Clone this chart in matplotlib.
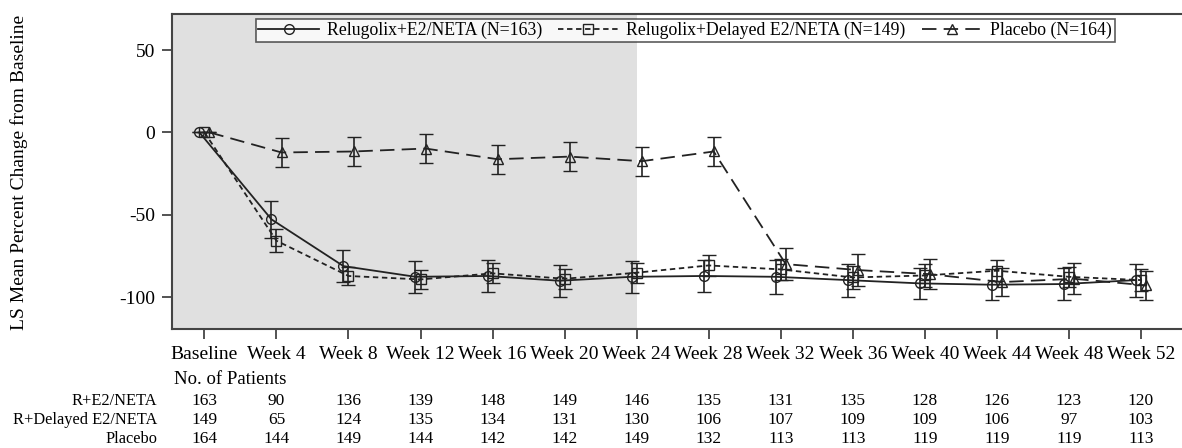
import matplotlib
matplotlib.use("Agg")
import matplotlib.pyplot as plt
import matplotlib.transforms as mtransforms
from matplotlib.lines import Line2D
import numpy as np

plt.rcParams['font.family'] = ['Liberation Serif', 'DejaVu Serif']

# данные
visits = ['Baseline', 'Week 4', 'Week 8', 'Week 12', 'Week 16', 'Week 20', 'Week 24',
          'Week 28', 'Week 32', 'Week 36', 'Week 40', 'Week 44', 'Week 48', 'Week 52']

rel_mean = [0, -52.8, -81.2, -87.7, -87.2, -90.1, -87.7, -87.2, -87.7, -89.7, -91.7, -92.5, -92.1, -89.7]
rel_err = [0, 11.2, 9.8, 9.7, 9.8, 9.7, 9.7, 10.0, 10.2, 10.0, 9.5, 9.5, 9.5, 10.0]

del_mean = [0, -65.8, -87.2, -89.3, -85.6, -88.9, -85.2, -80.8, -83.2, -88.1, -86.9, -84.0, -87.7, -89.7]
del_err = [0, 7.1, 5.5, 6.0, 6.0, 6.0, 6.0, 6.5, 6.5, 7.0, 7.0, 6.5, 6.0, 6.5]

pla_mean = [0, -12.2, -11.6, -9.8, -16.3, -14.7, -17.5, -11.6, -80.0, -83.6, -86.1, -90.9, -88.9, -92.9]
pla_err = [0, 8.7, 8.6, 8.6, 8.7, 8.6, 8.7, 8.7, 9.6, 9.6, 9.3, 8.7, 9.5, 8.7]

n_rel = [163, 90, 136, 139, 148, 149, 146, 135, 131, 135, 128, 126, 123, 120]
n_del = [149, 65, 124, 135, 134, 131, 130, 106, 107, 109, 109, 106, 97, 103]
n_pla = [164, 144, 149, 144, 142, 142, 149, 132, 113, 113, 119, 119, 119, 113]

labels = ['Relugolix+E2/NETA (N=163)', 'Relugolix+Delayed E2/NETA (N=149)', 'Placebo (N=164)']
row_names = ['R+E2/NETA', 'R+Delayed E2/NETA', 'Placebo']

x = np.arange(len(visits))
dx = 0.07
col = '#222222'
W, H = 1182, 448

fig = plt.figure(figsize=(W / 100, H / 100), dpi=100)
ax = fig.add_axes([172 / W, 1 - 329 / H, 1 - 172 / W, (329 - 14) / H])

xlim = (-0.45, 13.57)
ax.set_xlim(xlim)
ax.set_ylim(-119.4, 71.9)

# серая область до 24 недели
ax.axvspan(xlim[0], 6, color='#e0e0e0', lw=0, zorder=0)

styles = [
    (x - dx, rel_mean, rel_err, 'o', '-'),
    (x, del_mean, del_err, 's', (0, (3, 2))),
    (x + dx, pla_mean, pla_err, '^', (0, (8, 4))),
]
handles = []
for (xs, m, e, mk, ls), lab in zip(styles, labels):
    ax.errorbar(xs, m, yerr=e, color=col, marker=mk, markersize=7, mfc='none',
                mec=col, mew=1.0, linestyle=ls, lw=1.3, elinewidth=1.2,
                capsize=5, capthick=1.2)
    handles.append(Line2D([], [], color=col, marker=mk, markersize=7, mfc='none',
                          mec=col, mew=1.0, linestyle=ls, lw=1.3, label=lab))

ax.set_xticks(x)
ax.set_xticklabels(visits, fontsize=14)
ax.set_yticks([50, 0, -50, -100])
ax.set_yticklabels(['50', '0', '-50', '-100'], fontsize=14)
ax.tick_params(axis='both', direction='out', length=7, width=1.3, color='#444444', pad=5)

for s in ['left', 'top', 'bottom']:
    ax.spines[s].set_linewidth(1.5)
    ax.spines[s].set_color('#444444')
ax.spines['right'].set_visible(False)

fig.text(19 / W, 1 - 172 / H, 'LS Mean Percent Change from Baseline', fontsize=14,
         rotation=90, ha='center', va='center')

leg = ax.legend(handles=handles, loc='upper center', bbox_to_anchor=(0.508, 1.0), ncol=3,
                fontsize=12.8, frameon=True, fancybox=False, edgecolor='#333333',
                handlelength=3.4, numpoints=1, borderpad=0.15, columnspacing=0.9,
                handletextpad=0.45, borderaxespad=0.3)
leg.get_frame().set_linewidth(1.2)

# таблица числа пациентов
trans = mtransforms.blended_transform_factory(ax.transData, fig.transFigure)
fig.text(174 / W, 1 - 379 / H, 'No. of Patients', fontsize=13.5, va='center', ha='left')
rows_y = [401, 420, 439]
for name, counts, yy in zip(row_names, [n_rel, n_del, n_pla], rows_y):
    fy = 1 - yy / H
    fig.text(157 / W, fy, name, fontsize=11.8, va='center', ha='right')
    for xi, c in zip(x, counts):
        ax.text(xi, fy, str(c), transform=trans, fontsize=12.5, va='center', ha='center',
                clip_on=False)

fig.savefig('out.png', dpi=100)
